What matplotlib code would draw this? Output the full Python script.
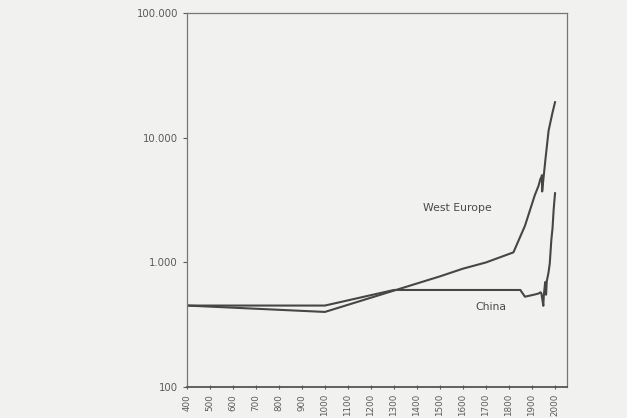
import matplotlib
matplotlib.use("Agg")
import matplotlib.pyplot as plt
from matplotlib.ticker import FixedLocator, NullLocator

# GDP per capita
we_years = [400, 1000, 1500, 1600, 1700, 1820, 1870, 1913, 1929, 1938, 1940, 1944, 1945, 1946,
            1950, 1960, 1973, 1990, 2001]
we_vals = [450, 400, 771, 889, 997, 1202, 1960, 3458, 4100, 4700, 4650, 5000, 3700, 3900,
           4579, 6900, 11400, 15900, 19256]

cn_years = [400, 1000, 1300, 1820, 1850, 1870, 1890, 1913, 1929, 1938, 1942, 1946, 1950, 1952,
            1958, 1960, 1961, 1962, 1965, 1970, 1973, 1978, 1985, 1990, 1995, 2001]
cn_vals = [450, 450, 600, 600, 600, 530, 540, 552, 562, 575, 560, 500, 448, 537,
           693, 662, 553, 550, 706, 783, 838, 978, 1522, 1871, 2653, 3583]

x_ticks = list(range(400, 2001, 100))
y_ticks = [100, 1000, 10000, 100000]
y_labels = ["100", "1.000", "10.000", "100.000"]

bg = "#f1f1f0"
ink = "#464646"

fig = plt.figure(figsize=(6.27, 4.18), dpi=100, facecolor=bg)
ax = fig.add_axes([0.2982, 0.0742, 0.6061, 0.8947], facecolor=bg)

ax.plot(we_years, we_vals, color=ink, lw=1.5)
ax.plot(cn_years, cn_vals, color=ink, lw=1.5)

ax.set_yscale("log")
ax.set_ylim(100, 100000)
ax.set_xlim(400, 2053)

ax.yaxis.set_major_locator(FixedLocator(y_ticks))
ax.yaxis.set_minor_locator(NullLocator())
ax.set_yticklabels(y_labels)
ax.set_xticks(x_ticks)
ax.set_xticklabels([str(x) for x in x_ticks], rotation=90)

ax.tick_params(axis="y", labelsize=7.3, colors="#5a5a5a", length=3, width=0.8)
ax.tick_params(axis="x", labelsize=6.3, colors="#5a5a5a", length=3, width=0.8, direction="inout")
for s in ax.spines.values():
    s.set_color("#777777")
    s.set_linewidth(0.9)
ax.spines["bottom"].set_linewidth(1.3)
ax.spines["bottom"].set_color("#555555")

ax.text(1428, 2716, "West Europe", fontsize=7.8, color="#4a4a4a", va="center")
ax.text(1654, 435, "China", fontsize=7.8, color="#4a4a4a", va="center")

fig.savefig("out.png", dpi=100, facecolor=bg)
